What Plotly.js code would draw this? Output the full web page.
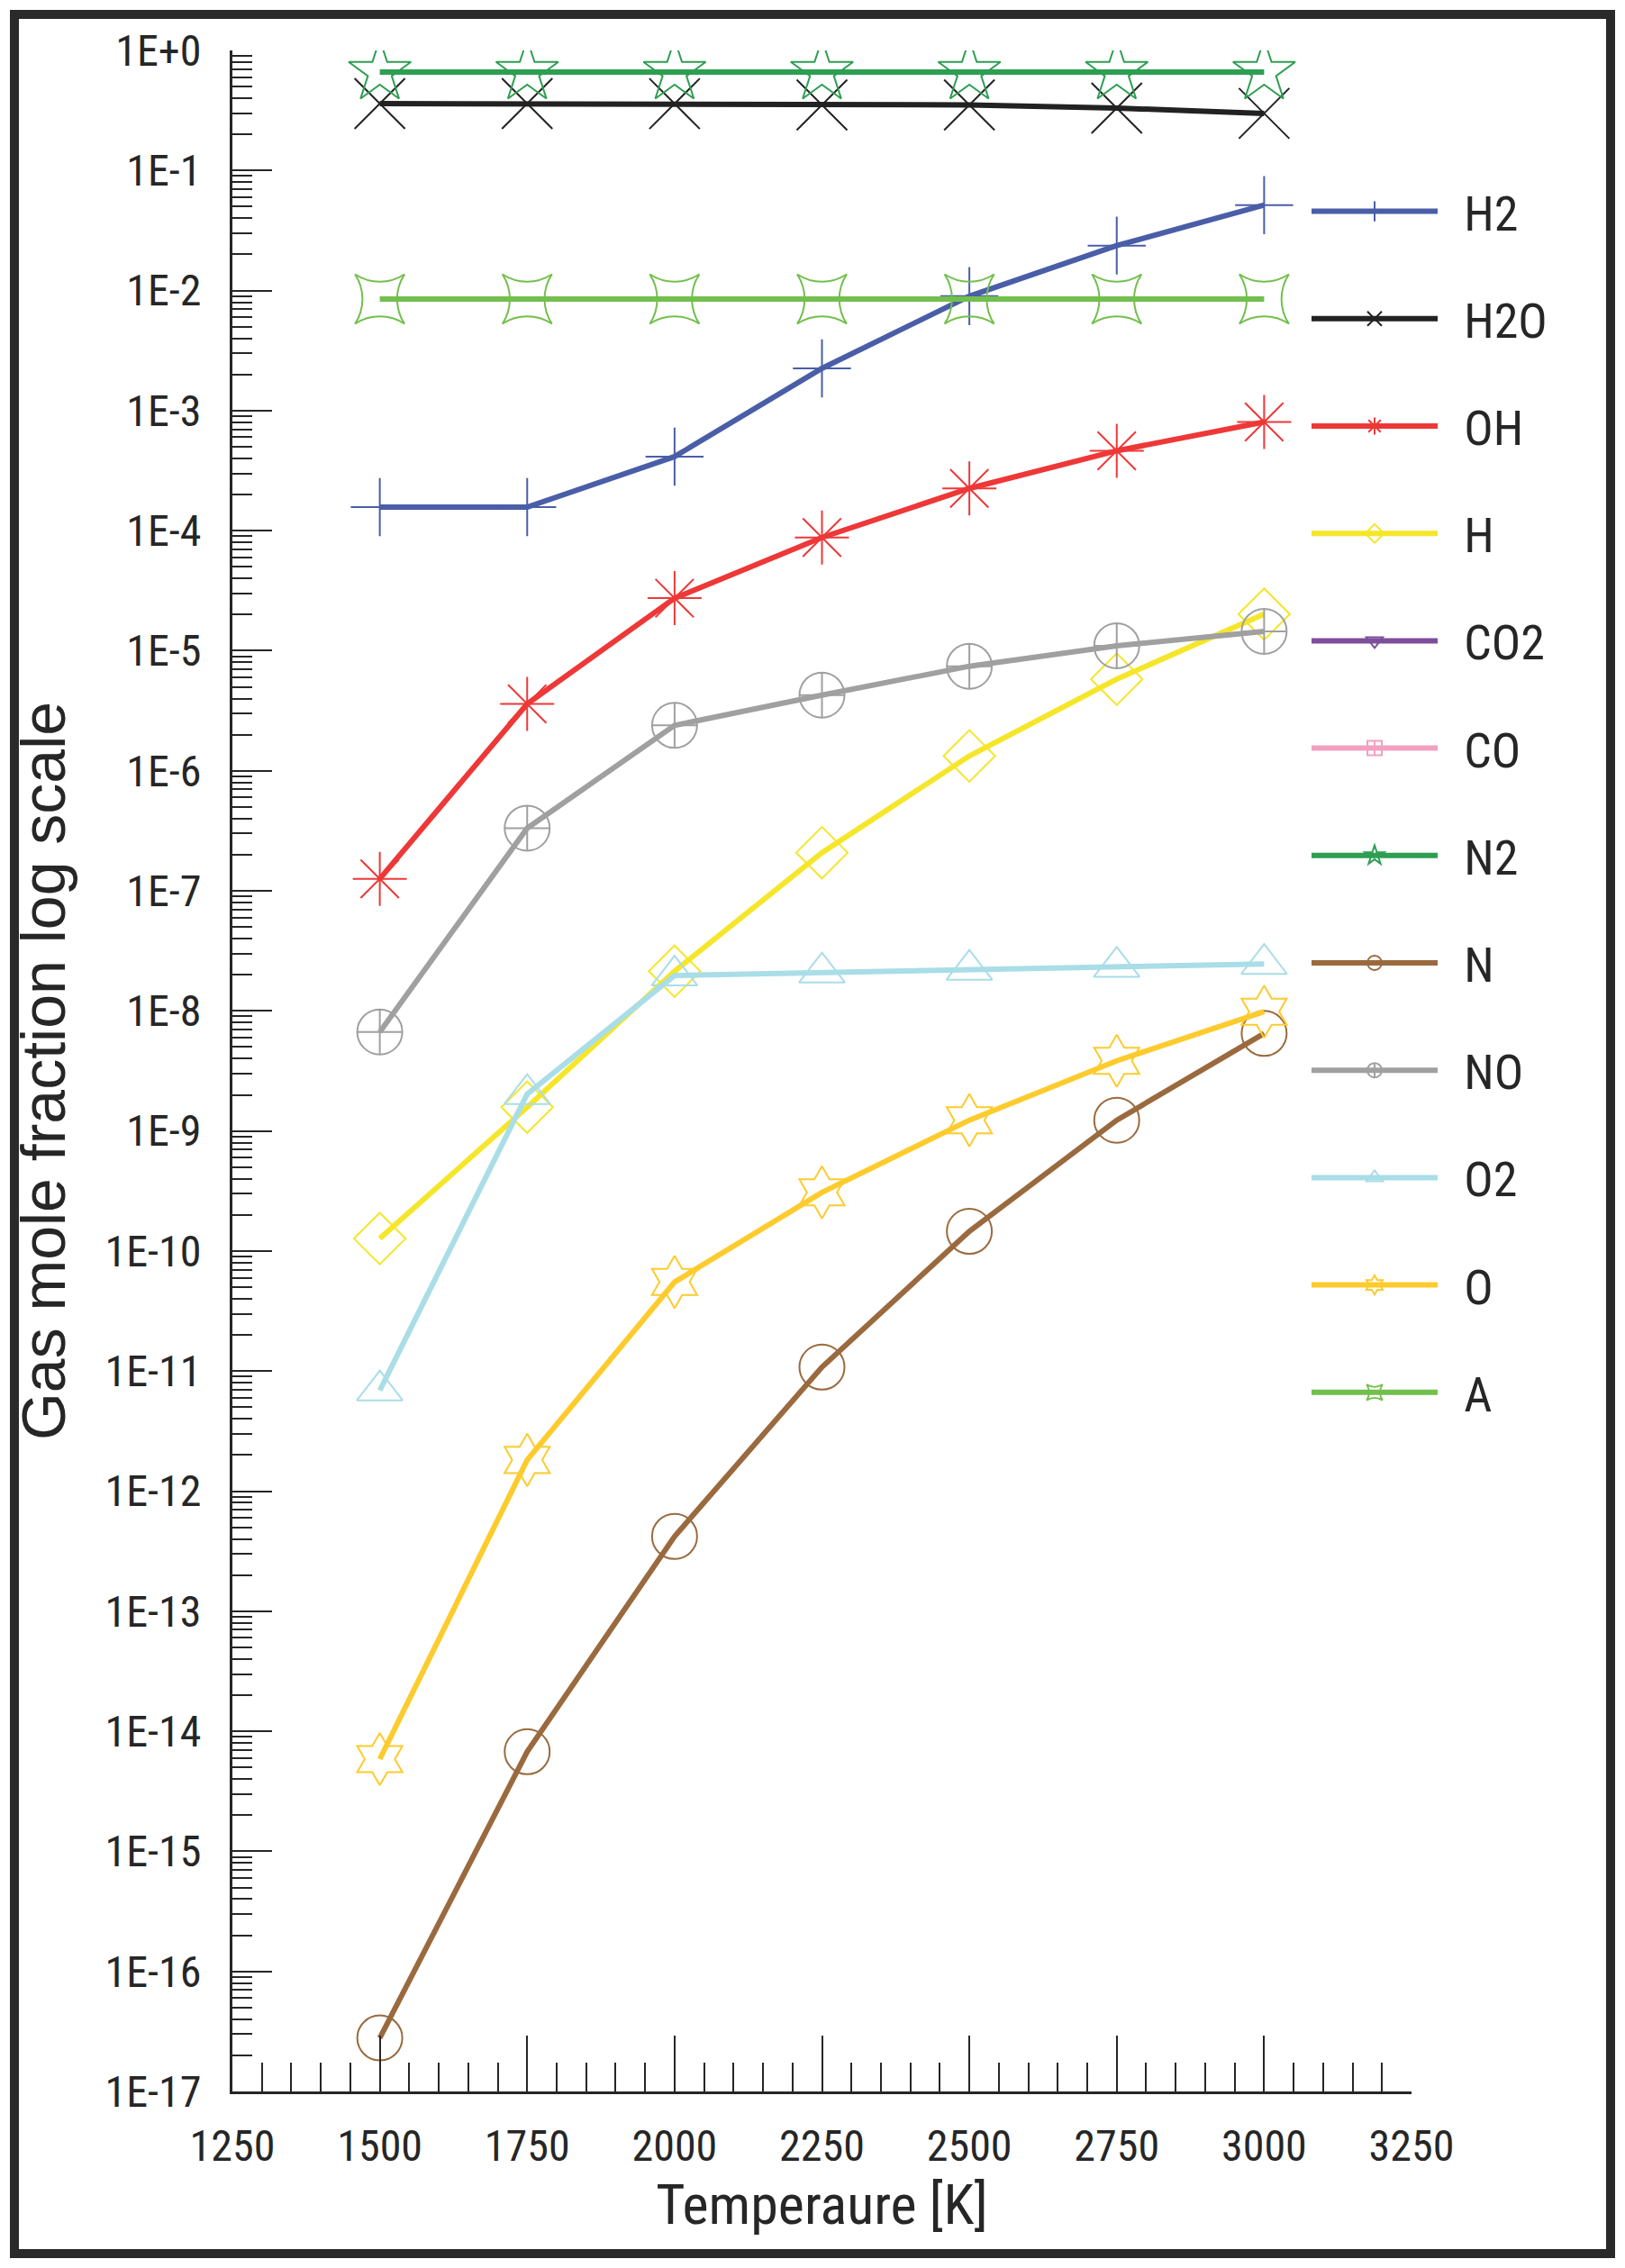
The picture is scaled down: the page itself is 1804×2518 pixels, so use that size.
<!DOCTYPE html>
<html>
<head>
<meta charset="utf-8">
<script src="https://cdn.plot.ly/plotly-3.0.1.min.js"></script>
<style>
  html, body { margin: 0; padding: 0; background: #ffffff; }
  #chart { width: 1804px; height: 2518px; }
</style>
</head>
<body>
<div id="chart"></div>
<script>
// ---- data ----
const temperatures = [1500, 1750, 2000, 2250, 2500, 2750, 3000];

const speciesNames = ["H2", "H2O", "OH", "H", "CO2", "CO", "N2", "N", "NO", "O2", "O", "A"];

const H2  = [1.57e-4, 1.57e-4, 4.14e-4, 2.25e-3, 8.98e-3, 2.37e-2, 5.15e-2];
const H2O = [0.361, 0.361, 0.360, 0.352, 0.352, 0.331, 0.299];
const OH  = [1.26e-7, 3.61e-6, 2.74e-5, 8.77e-5, 2.25e-4, 4.63e-4, 8.05e-4];
const H   = [1.27e-10, 1.58e-9, 2.14e-8, 2.08e-7, 1.33e-6, 5.80e-6, 2.02e-5];
const CO2 = [null, null, null, null, null, null, null];   // listed in legend, no visible points
const CO  = [null, null, null, null, null, null, null];   // listed in legend, no visible points
const N2  = [0.66, 0.66, 0.66, 0.66, 0.66, 0.66, 0.66];
const N   = [2.79e-17, 6.76e-15, 4.20e-13, 1.08e-11, 1.46e-10, 1.23e-9, 6.50e-9];
const NO  = [6.68e-9, 3.33e-7, 2.39e-6, 4.27e-6, 7.43e-6, 1.10e-5, 1.45e-5];
const O2  = [6.9e-12, 2.03e-9, 1.97e-8, 2.09e-8, 2.20e-8, 2.33e-8, 2.46e-8];
const O   = [5.87e-15, 1.82e-12, 5.52e-11, 3.08e-10, 1.23e-9, 3.84e-9, 9.86e-9];
const A   = [8.5e-3, 8.5e-3, 8.5e-3, 8.5e-3, 8.5e-3, 8.5e-3, 8.5e-3];

const yTickVals = [1, 1e-1, 1e-2, 1e-3, 1e-4, 1e-5, 1e-6, 1e-7, 1e-8, 1e-9, 1e-10,
                   1e-11, 1e-12, 1e-13, 1e-14, 1e-15, 1e-16, 1e-17];
const yTickText = ["1E+0", "1E-1", "1E-2", "1E-3", "1E-4", "1E-5", "1E-6", "1E-7", "1E-8",
                   "1E-9", "1E-10", "1E-11", "1E-12", "1E-13", "1E-14", "1E-15", "1E-16", "1E-17"];
const xTickVals = [1250, 1500, 1750, 2000, 2250, 2500, 2750, 3000, 3250];

// ---- styles ----
const seriesValues = { H2, H2O, OH, H, CO2, CO, N2, N, NO, O2, O, A };
const styles = {
  H2:  { color: "#4a5ea8", symbol: "cross-thin-open", size: 46 },
  H2O: { color: "#222222", symbol: "x-thin-open", size: 56 },
  OH:  { color: "#ee3838", symbol: "asterisk-open", size: 50 },
  H:   { color: "#f5e62a", symbol: "diamond-open", size: 44 },
  CO2: { color: "#7d4f9b", symbol: "triangle-down-open", size: 44 },
  CO:  { color: "#f2a0c2", symbol: "square-cross-open", size: 44 },
  N2:  { color: "#2e9e52", symbol: "star-open", size: 52 },
  N:   { color: "#9a6a3e", symbol: "circle-open", size: 50 },
  NO:  { color: "#a0a0a0", symbol: "circle-cross-open", size: 50 },
  O2:  { color: "#a9dde8", symbol: "triangle-up-open", size: 44 },
  O:   { color: "#fdcb2d", symbol: "hexagram-open", size: 44 },
  A:   { color: "#72bf4d", symbol: "star-square-open", size: 50 }
};

const narrow = "'Liberation Sans Narrow', 'Arial Narrow', 'Roboto Condensed', 'DejaVu Sans Condensed', sans-serif";
const regular = "'Liberation Sans', Arial, sans-serif";
const ink = "#262626";

const traces = speciesNames.map(function (name) {
  const vals = seriesValues[name];
  const st = styles[name];
  return {
    type: "scatter",
    mode: "lines+markers",
    name: "\u2002" + name,
    legendgroup: name,
    x: temperatures,
    y: vals,
    line: { color: st.color, width: 6 },
    marker: { symbol: st.symbol, size: st.size, color: st.color,
              line: { color: st.color, width: 2 } },
    hoverinfo: "x+y+name"
  };
});

// ---- layout geometry (pixels) ----
const W = 1804, Hh = 2518;
const L = 258, R = 1567, T = 56, B = 2322;
function px2x(p) { return (p - L) / (R - L); }
function px2y(p) { return (B - p) / (B - T); }

const layout = {
  width: W, height: Hh,
  margin: { l: L, r: W - R, t: T, b: Hh - B, pad: 0 },
  paper_bgcolor: "#ffffff",
  plot_bgcolor: "#ffffff",
  showlegend: true,
  font: { family: narrow, color: ink },
  xaxis: {
    range: [1250, 3250],
    tickmode: "array",
    tickvals: xTickVals,
    ticks: "inside",
    ticklen: 62,
    tickwidth: 2,
    tickcolor: ink,
    showline: true,
    linecolor: ink,
    linewidth: 3,
    showgrid: false,
    zeroline: false,
    minor: { ticks: "inside", ticklen: 32, tickwidth: 2, tickcolor: ink, dtick: 50, tick0: 1250, showgrid: false },
    tickfont: { family: narrow, size: 48, color: ink },
    ticklabelstandoff: 16,
    title: { text: "Temperaure [K]", font: { family: narrow, size: 62, color: ink }, standoff: 12 }
  },
  yaxis: {
    type: "log",
    range: [-17, 0],
    tickmode: "array",
    tickvals: yTickVals,
    ticktext: yTickText,
    ticks: "inside",
    ticklen: 44,
    tickwidth: 2,
    tickcolor: ink,
    showline: true,
    linecolor: ink,
    linewidth: 3,
    showgrid: false,
    zeroline: false,
    minor: { ticks: "inside", ticklen: 22, tickwidth: 2, tickcolor: ink, dtick: "D1", showgrid: false },
    tickfont: { family: narrow, size: 48, color: ink },
    ticklabelstandoff: 22,
    title: { text: "Gas mole fraction log scale", font: { family: regular, size: 68, color: ink }, standoff: 22 }
  },
  legend: {
    x: px2x(1451), y: px2y(193),
    xanchor: "left", yanchor: "top",
    bgcolor: "rgba(0,0,0,0)",
    borderwidth: 0,
    font: { family: narrow, size: 54, color: ink },
    itemwidth: 140,
    traceorder: "grouped",
    tracegroupgap: 46,
    itemsizing: "trace"
  },
  shapes: [{
    type: "rect", xref: "paper", yref: "paper",
    x0: px2x(16), x1: px2x(1788), y0: px2y(16), y1: px2y(2502),
    line: { color: "#2a2a2a", width: 10 },
    fillcolor: "rgba(0,0,0,0)",
    layer: "above"
  }]
};

Plotly.newPlot("chart", traces, layout, { staticPlot: true, displayModeBar: false });
</script>
</body>
</html>
